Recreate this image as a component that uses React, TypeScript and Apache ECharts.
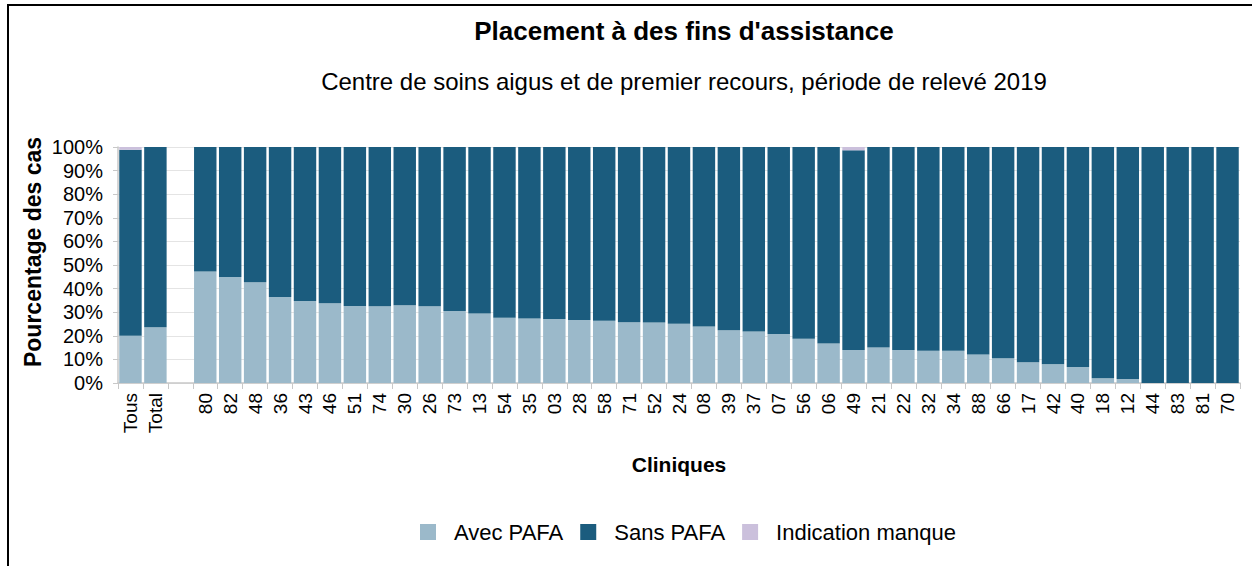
import React, { useEffect, useRef } from "react";
import * as echarts from "echarts";

const categories = ["Tous", "Total", "", "80", "82", "48", "36", "43", "46", "51", "74", "30", "26", "73", "13", "54", "35", "03", "28", "58", "71", "52", "24", "08", "39", "37", "07", "56", "06", "49", "21", "22", "32", "34", "88", "66", "17", "42", "40", "18", "12", "44", "83", "81", "70"];

const avecPafa: (number | null)[] = [20.0, 23.6, null, 47.2, 44.9, 42.7, 36.4, 34.7, 33.8, 32.6, 32.5, 32.9, 32.5, 30.5, 29.4, 27.7, 27.3, 27.1, 26.7, 26.4, 25.7, 25.6, 25.1, 23.9, 22.3, 21.8, 20.8, 18.8, 16.7, 14.0, 15.0, 14.0, 13.7, 13.7, 12.1, 10.5, 8.8, 7.9, 6.8, 2.0, 1.7, 0, 0, 0, 0];

const indicationManque: (number | null)[] = [1.2, 0, null, 0, 0, 0, 0, 0, 0, 0, 0, 0, 0, 0, 0, 0, 0, 0, 0, 0, 0, 0, 0, 0, 0, 0, 0, 0, 0, 1.4, 0, 0, 0, 0, 0, 0, 0, 0, 0, 0, 0, 0, 0, 0, 0];

const sansPafa: (number | null)[] = avecPafa.map((v, i) =>
  v === null ? null : +(100 - v - (indicationManque[i] || 0)).toFixed(1)
);

const yTicks = [0, 10, 20, 30, 40, 50, 60, 70, 80, 90, 100];

const FONT = "Liberation Sans, Arial, sans-serif";

export default function App() {
  const ref = useRef<HTMLDivElement>(null);
  useEffect(() => {
    document.body.style.margin = "0";
    const chart = echarts.init(ref.current!, null, { renderer: "svg" });
    chart.setOption({
      animation: false,
      textStyle: { fontFamily: FONT },
      title: [
        {
          text: "Placement à des fins d'assistance",
          left: 679,
          top: 13,
          textAlign: "center",
          textStyle: { fontSize: 26, fontWeight: "bold", color: "#000", fontFamily: FONT },
        },
        {
          text: "Centre de soins aigus et de premier recours, période de relevé 2019",
          left: 679,
          top: 64,
          textAlign: "center",
          textStyle: { fontSize: 24, fontWeight: "normal", color: "#000", fontFamily: FONT },
        },
      ],
      legend: {
        top: 516,
        left: 415,
        itemWidth: 16,
        itemHeight: 16,
        itemGap: 17,
        icon: "rect",
        textStyle: { fontSize: 22, color: "#000", fontFamily: FONT, padding: [0, 0, 0, 13] },
        data: ["Avec PAFA", "Sans PAFA", "Indication manque"],
      },
      graphic: [
        {
          type: "text",
          x: 33,
          y: 252,
          rotation: Math.PI / 2,
          style: {
            text: "Pourcentage des cas",
            align: "center",
            verticalAlign: "middle",
            fontSize: 23,
            fontWeight: "bold",
            fontFamily: FONT,
            fill: "#000",
          },
        },
      ],
      grid: { left: 118, right: 12, top: 147, bottom: 183, containLabel: false },
      xAxis: {
        type: "category",
        data: categories,
        name: "Cliniques",
        nameLocation: "middle",
        nameGap: 71,
        nameTextStyle: { fontSize: 21, fontWeight: "bold", color: "#000", fontFamily: FONT },
        axisLine: { lineStyle: { color: "#c8c8c8", width: 1.5 } },
        axisTick: { show: true, alignWithLabel: false, length: 6, lineStyle: { color: "#c8c8c8" } },
        axisLabel: { rotate: 90, fontSize: 19, color: "#000", interval: 0, margin: 10, fontFamily: FONT },
      },
      yAxis: {
        type: "value",
        min: 0,
        max: 100,
        interval: 10,
        axisLine: { show: true, lineStyle: { color: "#c8c8c8", width: 1.5 } },
        axisTick: { show: true, length: 5, lineStyle: { color: "#c8c8c8" } },
        axisLabel: {
          fontSize: 20,
          color: "#000",
          margin: 15,
          fontFamily: FONT,
          formatter: (v: number) => (yTicks.includes(v) ? v + "%" : ""),
        },
        splitLine: { show: true, lineStyle: { color: "#e4e4e4" } },
      },
      series: [
        {
          name: "Avec PAFA",
          type: "bar",
          stack: "t",
          data: avecPafa,
          barCategoryGap: "10%",
          itemStyle: { color: "#9bb9ca" },
        },
        {
          name: "Sans PAFA",
          type: "bar",
          stack: "t",
          data: sansPafa,
          itemStyle: { color: "#1b5c7e" },
        },
        {
          name: "Indication manque",
          type: "bar",
          stack: "t",
          data: indicationManque,
          itemStyle: { color: "#cbc0dc" },
        },
      ],
    });
    return () => chart.dispose();
  }, []);
  return (
    <div style={{ position: "relative", width: 1252, height: 566, background: "#fff" }}>
      <div ref={ref} style={{ position: "absolute", left: 0, top: 0, width: 1252, height: 566 }} />
      <div
        style={{
          position: "absolute",
          left: 7,
          top: 4,
          width: 1245,
          height: 562,
          borderLeft: "2px solid #000",
          borderTop: "2px solid #000",
          boxSizing: "border-box",
          pointerEvents: "none",
        }}
      />
    </div>
  );
}
